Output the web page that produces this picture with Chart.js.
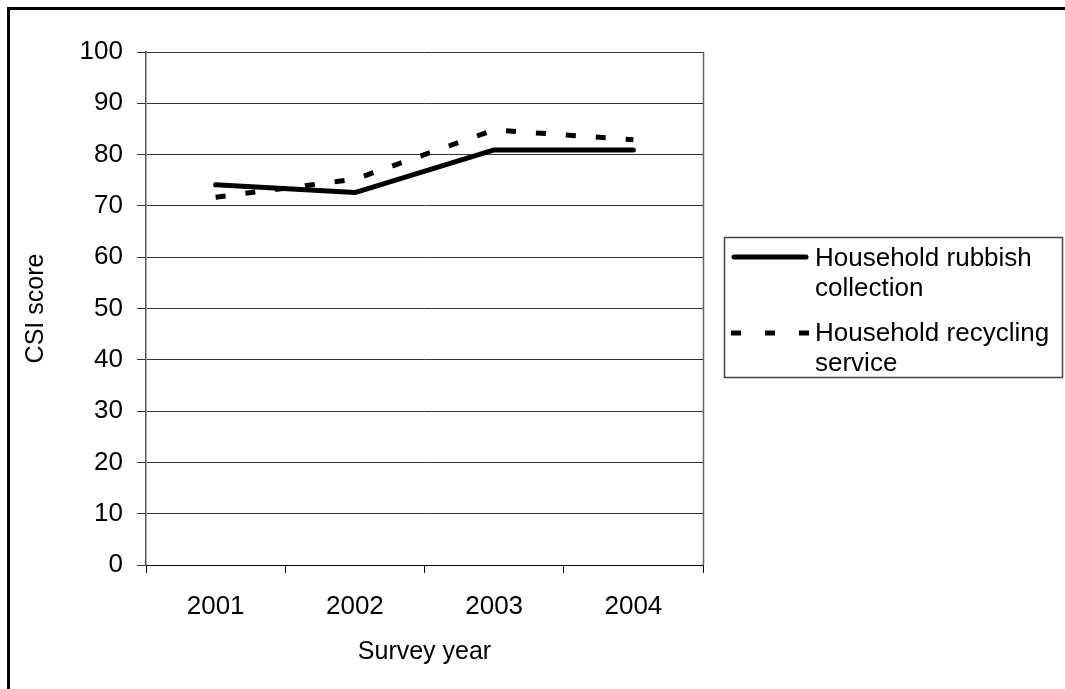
<!DOCTYPE html>
<html>
<head>
<meta charset="utf-8">
<title>CSI score by survey year</title>
<script src="https://cdn.jsdelivr.net/npm/chart.js@4"></script>
<style>
  html, body { margin: 0; padding: 0; background: #fff; }
  #box { position: absolute; left: 0; top: 0; width: 1065px; height: 689px; }
</style>
</head>
<body>
<div id="box"><canvas id="csiChart" width="1065" height="689"></canvas></div>
<script>
// survey results
var years = ['2001', '2002', '2003', '2004'];
var rubbishScores = [74.1, 72.6, 80.9, 80.9];
var recyclingScores = [71.7, 75.2, 84.8, 82.9];

var rubbishLabel = ['Household rubbish', 'collection'];
var recyclingLabel = ['Household recycling', 'service'];

var yMin = 0;
var yMax = 100;
var yStep = 10;

var FONT = "'Liberation Sans', Arial, Helvetica, sans-serif";
var FONT_SIZE = 26;

Chart.defaults.font.family = FONT;
Chart.defaults.color = '#000';

// outer frame, right edge of plot box and the legend
var decorations = {
	id: 'decorations',
	beforeDraw: function(chart) {
		var ctx = chart.ctx;
		ctx.save();
		ctx.fillStyle = '#fff';
		ctx.fillRect(0, 0, chart.width, chart.height);
		ctx.fillStyle = '#000';
		ctx.fillRect(7, 7, chart.width, 3);
		ctx.fillRect(7, 7, 3, chart.height);
		ctx.restore();
	},
	beforeDatasetsDraw: function(chart) {
		var ctx = chart.ctx;
		var a = chart.chartArea;
		ctx.save();
		ctx.strokeStyle = '#666';
		ctx.lineWidth = 1.5;
		ctx.beginPath();
		ctx.moveTo(Math.round(a.right) + 0.5, a.top);
		ctx.lineTo(Math.round(a.right) + 0.5, a.bottom);
		ctx.stroke();
		ctx.restore();
	},
	afterDraw: function(chart) {
		var ctx = chart.ctx;
		ctx.save();

		// legend box
		ctx.strokeStyle = '#444';
		ctx.lineWidth = 1.5;
		ctx.strokeRect(724.5, 237.5, 338, 140);

		ctx.font = FONT_SIZE + 'px ' + FONT;
		ctx.fillStyle = '#000';
		ctx.textBaseline = 'middle';
		ctx.textAlign = 'left';

		var entries = [
			{ ds: chart.data.datasets[0], lineY: 257, rows: [259, 289] },
			{ ds: chart.data.datasets[1], lineY: 333, rows: [334, 364] }
		];

		entries.forEach(function(e) {
			ctx.strokeStyle = e.ds.borderColor;
			ctx.lineWidth = e.ds.borderWidth;
			ctx.lineCap = e.ds.borderDash.length ? 'butt' : 'round';
			ctx.setLineDash(e.ds.borderDash.length ? [10, 24] : []);
			ctx.beginPath();
			ctx.moveTo(e.ds.borderDash.length ? 731 : 734, e.lineY);
			ctx.lineTo(e.ds.borderDash.length ? 809 : 806, e.lineY);
			ctx.stroke();

			e.ds.label.forEach(function(txt, i) {
				ctx.fillText(txt, 815, e.rows[i]);
			});
		});

		ctx.restore();
	}
};

new Chart('csiChart', {
	type: 'line',
	data: {
		labels: years,
		datasets: [{
			label: rubbishLabel,
			data: rubbishScores,
			borderColor: '#000',
			borderWidth: 5,
			borderDash: [],
			borderCapStyle: 'round',
			borderJoinStyle: 'round',
			pointRadius: 0,
			tension: 0,
			fill: false
		},
		{
			label: recyclingLabel,
			data: recyclingScores,
			borderColor: '#000',
			borderWidth: 5,
			borderDash: [10, 20],
			borderCapStyle: 'butt',
			borderJoinStyle: 'miter',
			pointRadius: 0,
			tension: 0,
			fill: false
		}]
	},
	options: {
		responsive: false,
		animation: false,
		layout: {
			padding: { top: 52, right: 362, bottom: 0, left: 0 }
		},
		plugins: {
			legend: { display: false },
			tooltip: { enabled: false }
		},
		scales: {
			x: {
				offset: true,
				afterFit: function(scale) { scale.height = 124; },
				grid: {
					offset: true,
					drawOnChartArea: false,
					tickLength: 8,
					color: '#000',
					lineWidth: 1
				},
				border: { color: '#000', width: 1 },
				ticks: {
					padding: 18,
					font: { size: FONT_SIZE },
					color: '#000'
				},
				title: {
					display: true,
					text: 'Survey year',
					font: { size: 25 },
					color: '#000',
					padding: { top: 0, bottom: 22 }
				}
			},
			y: {
				min: yMin,
				max: yMax,
				afterFit: function(scale) { scale.width = 146; },
				grid: {
					color: '#333',
					lineWidth: 1,
					tickLength: 9
				},
				border: { color: '#555', width: 1.5 },
				ticks: {
					stepSize: yStep,
					padding: 14,
					font: { size: FONT_SIZE },
					color: '#000'
				},
				title: {
					display: true,
					text: 'CSI score',
					font: { size: 25 },
					color: '#000',
					padding: { top: 21, bottom: 0 }
				}
			}
		}
	},
	plugins: [decorations]
});
</script>
</body>
</html>
